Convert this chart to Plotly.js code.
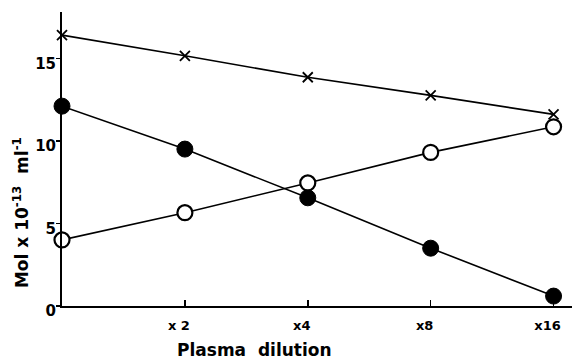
<!DOCTYPE html>
<html><head><meta charset="utf-8">
<script src="https://cdn.plot.ly/plotly-3.0.1.min.js"></script>
<style>html,body{margin:0;padding:0;background:#fff}#chart{width:577px;height:360px}</style>
</head><body><div id="chart"></div>
<script>
const dilutions = ['', 'x 2', 'x4', 'x8', 'x16'];
const crossSeries = [16.4, 15.15, 13.85, 12.75, 11.6];
const filledSeries = [12.1, 9.5, 6.55, 3.5, 0.6];
const openSeries = [4.0, 5.65, 7.45, 9.3, 10.85];
const xTitle = 'Plasma  dilution';
const yTitle = 'Mol x 10<sup>-13</sup>  ml<sup>-1</sup>';
const xIdx = dilutions.map((_, i) => i);

const FAM = 'DejaVu Sans, Liberation Sans, Arial, sans-serif';
const lineStyle = {color: '#000', width: 1.6};
const traces = [
  {x: xIdx, y: crossSeries, mode: 'lines+markers', line: lineStyle, cliponaxis: false,
   marker: {symbol: 'x-thin', size: 10, color: '#000', line: {color: '#000', width: 1.8}}},
  {x: xIdx, y: filledSeries, mode: 'lines+markers', line: lineStyle, cliponaxis: false,
   marker: {symbol: 'circle', size: 16, color: '#000', line: {color: '#000', width: 1}}},
  {x: xIdx, y: openSeries, mode: 'lines+markers', line: lineStyle, cliponaxis: false,
   marker: {symbol: 'circle', size: 15, color: '#fff', line: {color: '#000', width: 2.2}}}
];
const layout = {
  width: 577, height: 360,
  margin: {l: 62, r: 5, t: 12, b: 54},
  showlegend: false,
  paper_bgcolor: '#fff', plot_bgcolor: '#fff',
  font: {family: FAM, size: 14, color: '#000', weight: 'bold'},
  xaxis: {
    range: [0, 4.15], showgrid: false, zeroline: false,
    showline: true, linecolor: '#000', linewidth: 2,
    tickmode: 'array', tickvals: xIdx.slice(1), ticktext: dilutions.slice(1),
    ticks: 'inside', ticklen: 6, tickwidth: 1.5, tickcolor: '#000',
    ticklabelshift: -6, ticklabelstandoff: 6,
    tickfont: {family: FAM, size: 13, color: '#000', weight: 'bold'}
  },
  yaxis: {
    range: [0, 17.8], showgrid: false, zeroline: false,
    showline: true, linecolor: '#000', linewidth: 2,
    tickvals: [0, 5, 10, 15],
    ticks: 'outside', ticklen: 4, tickwidth: 1.5, tickcolor: '#000',
    ticklabelshift: 5, ticklabelstandoff: -3,
    tickfont: {family: FAM, size: 15, color: '#000', weight: 'bold'}
  },
  annotations: [
    {text: xTitle, xref: 'paper', yref: 'paper', x: 0.378, y: 0, yshift: -44,
     xanchor: 'center', yanchor: 'middle', showarrow: false,
     font: {family: FAM, size: 17, color: '#000', weight: 'bold'}},
    {text: yTitle, xref: 'paper', yref: 'paper', x: 0, xshift: -41, y: 0.316,
     xanchor: 'center', yanchor: 'middle', textangle: -90, showarrow: false,
     font: {family: FAM, size: 17, color: '#000', weight: 'bold'}}
  ]
};
Plotly.newPlot('chart', traces, layout, {displayModeBar: false, staticPlot: true});
</script></body></html>
